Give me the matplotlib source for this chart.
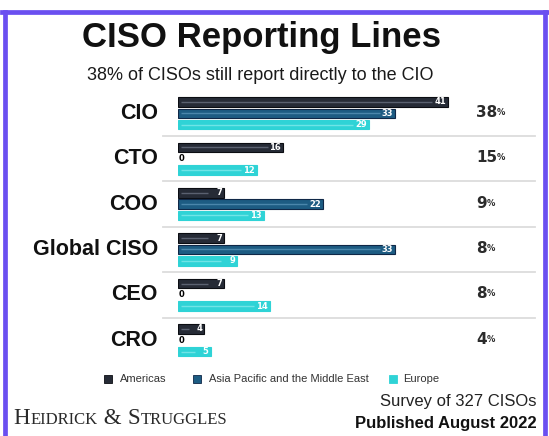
import matplotlib
matplotlib.use("Agg")
import matplotlib.pyplot as plt
from matplotlib.patches import Rectangle
from matplotlib.lines import Line2D

#====== DATA ==========================================
roles = ["CIO", "CTO", "COO", "Global CISO", "CEO", "CRO"]
americas = [41, 16, 7, 7, 7, 4]
asia_pacific_me = [33, 0, 22, 33, 0, 0]
europe = [29, 12, 13, 9, 14, 5]
overall_pct = [38, 15, 9, 8, 8, 4]
series_names = ["Americas", "Asia Pacific and the Middle East", "Europe"]

# fill, edge, inner stripe
series_styles = [
    ("#262b36", "#0b0d12", "#5a6170"),
    ("#1d5c83", "#0f2747", "#4a86ab"),
    ("#2fd3d6", "#2fd3d6", "#6fe4e6"),
]

#====== LAYOUT HELPERS ================================
W, H = 549, 436
fig = plt.figure(figsize=(W / 100, H / 100), dpi=100)
fig.patch.set_facecolor("white")


def fx(px):
    return px / W


def fy(py):
    return 1 - py / H


ppu = 6.59                      # pixels per unit on the value axis
ax_left = 178
ax_right = ax_left + 45 * ppu
row0, row_step = 113.3, 45.4
ax_top = row0 - row_step / 2
ax_bot = row0 + 5.5 * row_step

ax = fig.add_axes([fx(ax_left), fy(ax_bot),
                   fx(ax_right) - fx(ax_left), fy(ax_top) - fy(ax_bot)])
ax.set_xlim(0, 45)
ax.set_ylim(5.5, -0.5)
ax.axis("off")

#====== BARS ==========================================
offsets = [-0.25, 0.0, 0.25]
bar_h = 0.21
for series, off, (fill, edge, stripe) in zip(
        [americas, asia_pacific_me, europe], offsets, series_styles):
    for i, v in enumerate(series):
        y = i + off
        if v > 0:
            ax.barh(y, v, height=bar_h, color=fill, edgecolor=edge, linewidth=0.8)
            if v > 3:
                ax.plot([0.5, v - 2.4], [y, y], color=stripe, lw=1.0,
                        solid_capstyle="butt")
            ax.text(v - 0.35, y, str(v), ha="right", va="center",
                    color="white", fontsize=6, fontweight="bold")
        else:
            ax.text(0.05, y, "0", ha="left", va="center",
                    color="black", fontsize=6, fontweight="bold")

# separators between groups
sep_xmin = (163 - ax_left) / (ax_right - ax_left)
sep_xmax = (535 - ax_left) / (ax_right - ax_left)
for i in range(len(roles) - 1):
    ax.axhline(i + 0.5, xmin=sep_xmin, xmax=sep_xmax, color="#dcdcdc",
               lw=1.3, clip_on=False)

# category labels and overall percentages
for i, (name, pct) in enumerate(zip(roles, overall_pct)):
    ax.text((158 - ax_left) / ppu, i, name, ha="right", va="center",
            fontsize=15.5, fontweight="bold", family="Liberation Sans",
            color="#111111", clip_on=False)
    t = ax.text((476 - ax_left) / ppu, i - 0.02, str(pct), ha="left",
                va="center", fontsize=11, fontweight="bold",
                color="#2b2b2b", clip_on=False)
    ax.annotate("%", xy=(0.97, 0.8), xycoords=t, ha="left", va="top",
                fontsize=6, fontweight="bold", color="#2b2b2b")

#====== TITLES ========================================
fig.text(fx(261.5), fy(47), "CISO Reporting Lines", ha="center", va="baseline",
         fontsize=25, fontweight="bold", family="Liberation Sans", color="#111111")
fig.text(fx(260), fy(80), "38% of CISOs still report directly to the CIO",
         ha="center", va="baseline", fontsize=13, family="Liberation Sans",
         color="#1a1a1a")

#====== LEGEND ========================================
legend_sq = [104, 193, 389]
legend_tx = [120, 209, 403]
for name, sq, tx, (fill, edge, _) in zip(series_names, legend_sq, legend_tx, series_styles):
    fig.patches.append(Rectangle((fx(sq), fy(383)), 8 / W, 8 / H,
                                 transform=fig.transFigure, facecolor=fill,
                                 edgecolor=edge, linewidth=0.6))
    fig.text(fx(tx), fy(378.5), name, ha="left", va="center", fontsize=8,
             family="Liberation Sans", color="#333333")

#====== FOOTER ========================================
fig.text(fx(537), fy(406), "Survey of 327 CISOs", ha="right", va="baseline",
         fontsize=12, family="Liberation Sans", color="#222222")
fig.text(fx(537), fy(428), "Published August 2022", ha="right", va="baseline",
         fontsize=12, fontweight="bold", family="Liberation Sans", color="#111111")

# small-caps logo built from pieces
pieces = [("H", 16.5), ("EIDRICK", 12), (" & ", 16.5), ("S", 16.5), ("TRUGGLES", 12)]
logo_x = 13
renderer = fig.canvas.get_renderer()
for txt, size in pieces:
    t = fig.text(fx(logo_x), fy(424), txt, ha="left", va="baseline",
                 fontsize=size, family="Liberation Serif", color="#2a2a2a")
    logo_x += t.get_window_extent(renderer).width + 0.5

#====== BORDER ========================================
border_c = "#6a4ff0"
lw = 3.4
fig.add_artist(Line2D([fx(4.5), fx(4.5)], [fy(12), fy(440)], color=border_c, lw=lw,
                      transform=fig.transFigure))
fig.add_artist(Line2D([fx(2), fx(547)], [fy(12), fy(12)], color=border_c, lw=lw,
                      transform=fig.transFigure))
fig.add_artist(Line2D([fx(545), fx(545)], [fy(12), fy(440)], color=border_c, lw=lw,
                      transform=fig.transFigure))

fig.savefig("out.png", dpi=100, facecolor="white")
